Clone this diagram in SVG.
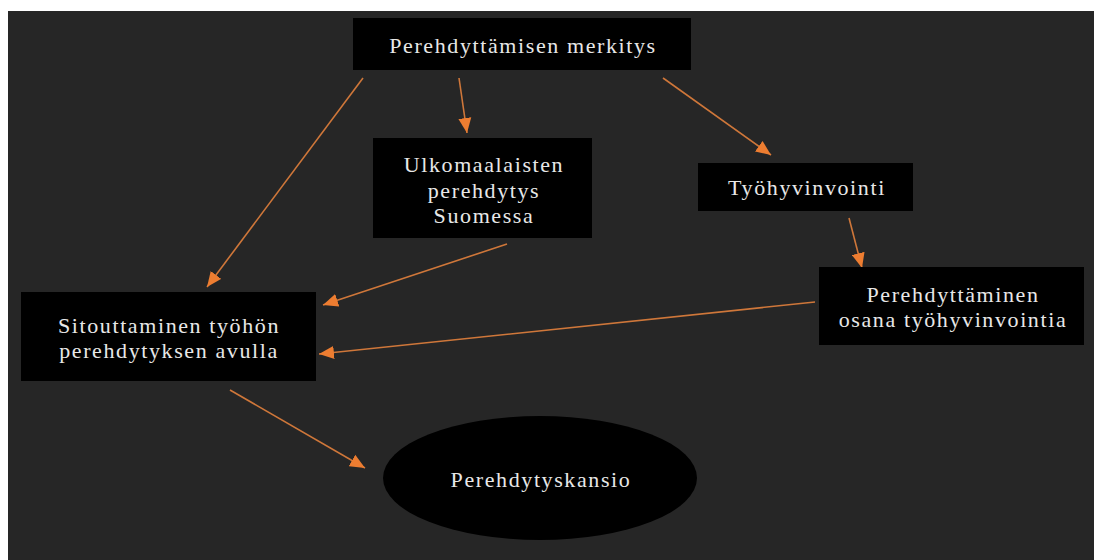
<svg xmlns="http://www.w3.org/2000/svg" width="1094" height="560" viewBox="0 0 1094 560">
<defs>
<style>
.box{fill:#000}
.c{stroke:#cf773a;stroke-width:1.6;fill:none;marker-end:url(#ah)}
</style>
<marker id="ah" markerUnits="userSpaceOnUse" markerWidth="16" markerHeight="14" refX="15" refY="6.5" orient="auto" viewBox="0 0 16 13">
<path d="M0,0 L15,6.5 L0,13 Z" fill="#ed7d31"/>
</marker>
</defs>
<rect x="0" y="0" width="1094" height="560" fill="#ffffff"/>
<rect x="8" y="11" width="1086" height="549" fill="#262626"/>
<g id="connectors">
<line class="c" x1="363" y1="78" x2="207" y2="287"/>
<line class="c" x1="459" y1="78" x2="467" y2="133"/>
<line class="c" x1="663" y1="78" x2="771" y2="155"/>
<line class="c" x1="507" y1="244" x2="323" y2="305"/>
<line class="c" x1="849" y1="218" x2="862" y2="268"/>
<line class="c" x1="815" y1="302" x2="319" y2="354"/>
<line class="c" x1="230" y1="390" x2="365" y2="468"/>
</g>
<g id="n-merkitys">
<rect class="box" x="353" y="18" width="338" height="52"/>
<text x="523" y="53" font-family="Liberation Serif" font-size="22" fill="#e8e8e8" text-anchor="middle" letter-spacing="1.6">Perehdyttämisen merkitys</text>
</g>
<g id="n-ulkomaalaisten">
<rect class="box" x="373" y="138" width="219" height="100"/>
<text x="484" y="172" font-family="Liberation Serif" font-size="22" fill="#e8e8e8" text-anchor="middle" letter-spacing="1.6">Ulkomaalaisten</text>
<text x="484" y="198" font-family="Liberation Serif" font-size="22" fill="#e8e8e8" text-anchor="middle" letter-spacing="1.6">perehdytys</text>
<text x="484" y="223" font-family="Liberation Serif" font-size="22" fill="#e8e8e8" text-anchor="middle" letter-spacing="1.6">Suomessa</text>
</g>
<g id="n-tyohyvinvointi">
<rect class="box" x="698" y="163" width="215" height="48"/>
<text x="807" y="195" font-family="Liberation Serif" font-size="22" fill="#e8e8e8" text-anchor="middle" letter-spacing="1.6">Työhyvinvointi</text>
</g>
<g id="n-osana">
<rect class="box" x="819" y="267" width="265" height="78"/>
<text x="953" y="302" font-family="Liberation Serif" font-size="22" fill="#e8e8e8" text-anchor="middle" letter-spacing="1.6">Perehdyttäminen</text>
<text x="953" y="327" font-family="Liberation Serif" font-size="22" fill="#e8e8e8" text-anchor="middle" letter-spacing="1.6">osana työhyvinvointia</text>
</g>
<g id="n-sitouttaminen">
<rect class="box" x="21" y="292" width="295" height="89"/>
<text x="169" y="333" font-family="Liberation Serif" font-size="22" fill="#e8e8e8" text-anchor="middle" letter-spacing="1.6">Sitouttaminen työhön</text>
<text x="169" y="358" font-family="Liberation Serif" font-size="22" fill="#e8e8e8" text-anchor="middle" letter-spacing="1.6">perehdytyksen avulla</text>
</g>
<g id="n-kansio">
<ellipse cx="540" cy="478" rx="157" ry="62" fill="#000"/>
<text x="541" y="487" font-family="Liberation Serif" font-size="22" fill="#e8e8e8" text-anchor="middle" letter-spacing="1.6">Perehdytyskansio</text>
</g>
</svg>
